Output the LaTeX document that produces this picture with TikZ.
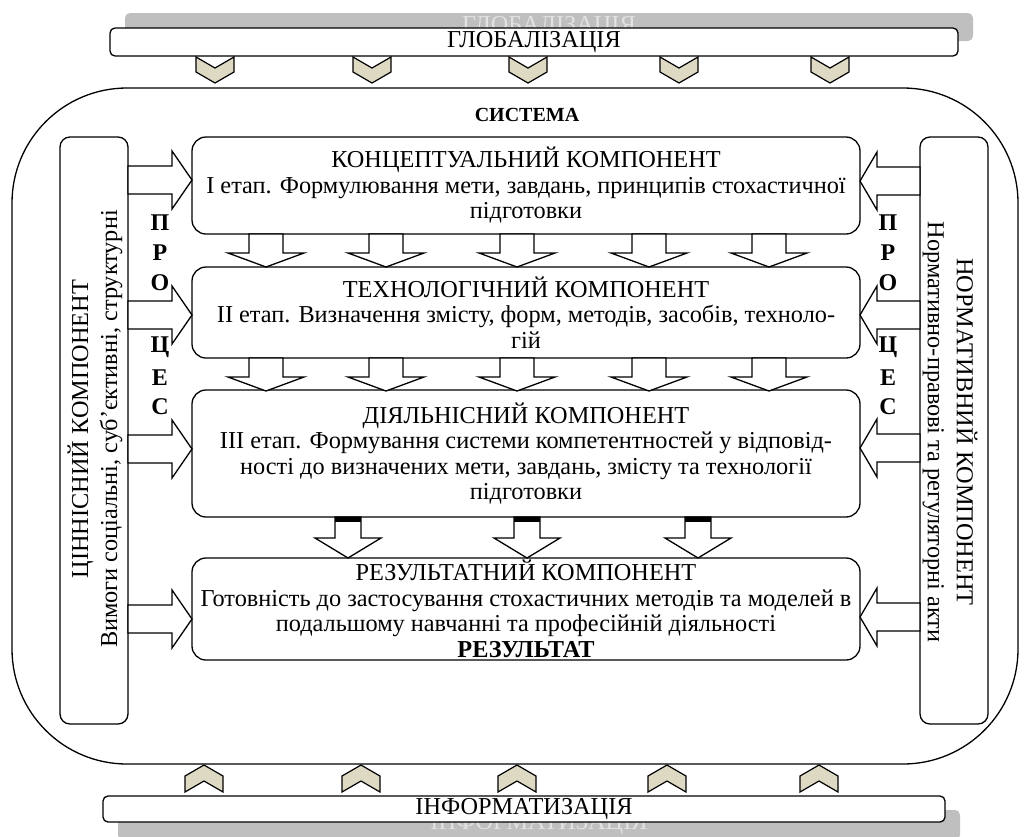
\documentclass[tikz,border=0pt]{standalone}
\usepackage{fontspec}
\setmainfont{Liberation Serif}
\definecolor{chev}{RGB}{221,217,195}
\definecolor{shad}{RGB}{191,191,191}
\definecolor{shadtxt}{RGB}{226,226,226}
\begin{document}
\begin{tikzpicture}[x=1pt,y=-1pt,line join=miter,
  ln/.style={line width=1.3pt},
  mainbox/.style={draw,ln,rounded corners=14pt,fill=white,minimum width=668pt,align=center,inner sep=0pt,font=\fontsize{24.3}{25.5}\selectfont},
  sidebox/.style={draw,ln,rounded corners=10pt,fill=white,minimum width=68pt,minimum height=587pt},
  banner/.style={draw,ln,rounded corners=5pt,fill=white,minimum height=28pt,inner sep=0pt,font=\fontsize{24.3}{25}\selectfont},
  shadowbox/.style={fill=shad,rounded corners=5pt},
  shtext/.style={text=shadtxt,font=\fontsize{24.3}{25}\selectfont},
  blk/.style={draw,ln,fill=white},
  chevstyle/.style={draw,line width=1.2pt,fill=chev},
  letter/.style={font=\fontsize{24}{25}\bfseries\selectfont},
  vtext/.style={font=\fontsize{24.3}{29}\selectfont},
  downA/.pic={\draw[blk] (-17,0) -- (17,0) -- (17,19) -- (38,19) -- (0,33) -- (-38,19) -- (-17,19) -- cycle;},
  downB/.pic={\draw[blk] (-13,0) -- (13,0) -- (13,21) -- (33,21) -- (0,41) -- (-33,21) -- (-13,21) -- cycle;
              \fill (-13,0) rectangle (13,5);},
  rightA/.pic={\draw[blk] (0,-14) -- (44,-14) -- (44,-29) -- (64,0) -- (44,29) -- (44,14) -- (0,14) -- cycle;},
  leftA/.pic={\draw[blk] (0,-14) -- (-43,-14) -- (-43,-29) -- (-60,0) -- (-43,29) -- (-43,14) -- (0,14) -- cycle;},
  chevD/.pic={\draw[chevstyle] (-19,0) -- (0,11) -- (19,0) -- (19,15) -- (0,26) -- (-19,15) -- cycle;},
  chevU/.pic={\draw[chevstyle] (0,0) -- (19,11) -- (19,27) -- (0,16) -- (-19,27) -- (-19,11) -- cycle;}
]
\useasboundingbox (0,0) rectangle (1024,836);
% top banner
\fill[shadowbox] (125,13) rectangle (973,41);
\node[shtext] (globsh) at (549,27) {ГЛОБАЛІЗАЦІЯ};
\node[banner,minimum width=848pt] (glob) at (534,42) {ГЛОБАЛІЗАЦІЯ};
% outer system frame
\draw[ln,rounded corners=115pt] (12,88) rectangle (1018,764);
\foreach \x in {215,372,528,679,830} \pic at (\x,57) {chevD};
\node[font=\fontsize{20}{24}\bfseries\selectfont] (sys) at (527,115) {СИСТЕМА};
% side boxes
\node[sidebox] (left) at (94,430.5) {};
\node[sidebox] (right) at (954,430.5) {};
\node[vtext,rotate=90,align=center] (lefttxt) at (95,429) {ЦІННІСНИЙ КОМПОНЕНТ\\Вимоги соціальні, суб’єктивні, структурні};
\node[vtext,rotate=-90,align=center] (righttxt) at (950,432) {НОРМАТИВНИЙ КОМПОНЕНТ\\Нормативно-правові та регуляторні акти};
% main boxes
\node[mainbox,minimum height=97pt] (b1) at (526,185.5) {КОНЦЕПТУАЛЬНИЙ КОМПОНЕНТ\\I етап. Формулювання мети, завдань, принципів стохастичної\\підготовки};
\node[mainbox,minimum height=91pt] (b2) at (526,312.5) {ТЕХНОЛОГІЧНИЙ КОМПОНЕНТ\\II етап. Визначення змісту, форм, методів, засобів, техноло-\\гій};
\node[mainbox,minimum height=127pt] (b3) at (526,453.5) {ДІЯЛЬНІСНИЙ КОМПОНЕНТ\\III етап. Формування системи компетентностей у відповід-\\ності до визначених мети, завдань, змісту та технології\\підготовки};
\node[mainbox,minimum height=102pt] (b4) at (526,609) {РЕЗУЛЬТАТНИЙ КОМПОНЕНТ\\Готовність до застосування стохастичних методів та моделей в\\подальшому навчанні та професійній діяльності\\\textbf{РЕЗУЛЬТАТ}};
% down arrows
\foreach \x in {266,386,517,649,769} \pic at (\x,234) {downA};
\foreach \x in {266,386,517,649,769} \pic at (\x,358) {downA};
\foreach \x in {348,527,698} \pic at (\x,517) {downB};
% side arrows
\foreach \y in {180,315,449,619} \pic at (128,\y) {rightA};
\foreach \y in {181,315,448,617} \pic at (920,\y) {leftA};
% ПРОЦЕС
\foreach \l/\y [count=\i] in {П/223,Р/253,О/283,Ц/347,Е/378,С/407} {
  \node[letter] (pl\i) at (160,\y) {\l};
  \node[letter] (pr\i) at (888,\y) {\l};
}
% bottom
\foreach \x in {204,361,517,667,819} \pic at (\x,765) {chevU};
\fill[shadowbox] (118,810) rectangle (960,840);
\node[shtext] (infsh) at (539,824) {ІНФОРМАТИЗАЦІЯ};
\node[banner,minimum width=842pt,minimum height=26pt] (inf) at (524,809) {ІНФОРМАТИЗАЦІЯ};
\end{tikzpicture}
\end{document}
